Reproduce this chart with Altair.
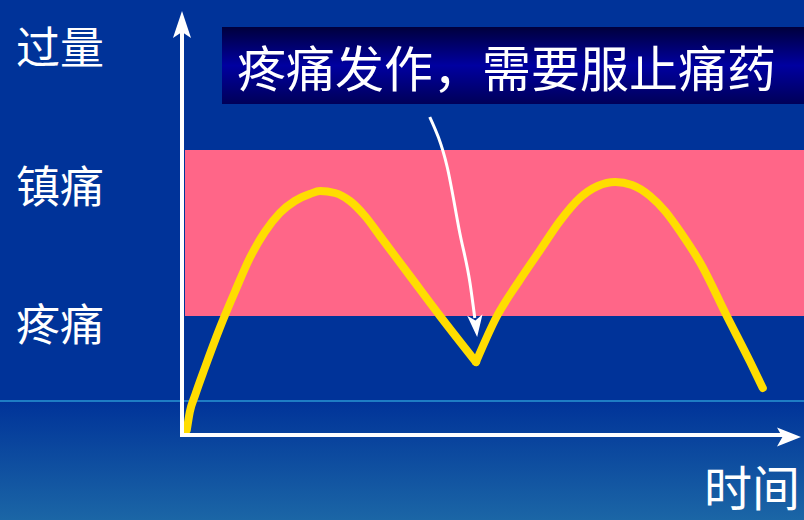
import altair as alt
import pandas as pd

# Time (arbitrary units) and drug concentration level
# Dose 1: from intake to the trough where pain returns
dose1_t = [0.03, 0.08, 0.17, 0.33, 0.58, 0.83, 1.08, 1.33, 1.58, 1.83, 2.08,
           2.25, 2.5, 2.75, 3.0, 3.25, 3.75, 4.25, 4.85]
dose1_level = [1.0, 5.5, 9.75, 16.5, 26.5, 35.5, 44.0, 50.5, 55.25, 58.25, 60.0,
               60.75, 60.25, 58.25, 54.5, 49.5, 39.5, 29.5, 18.0]
# Dose 2: from the trough onwards
dose2_t = [4.85, 5.2, 5.58, 5.92, 6.25, 6.58, 6.88, 7.17, 7.45, 7.75, 8.0,
           8.28, 8.58, 9.03, 9.42, 9.63]
dose2_level = [18.0, 29.5, 38.5, 46.0, 53.25, 59.0, 62.0, 63.0, 62.25, 59.5, 55.75,
               50.0, 43.0, 29.5, 18.0, 11.5]

# Therapeutic window: pain threshold and analgesic (overdose) threshold
PAIN_LEVEL = 29.5
OVERDOSE_LEVEL = 71.0
T_MAX = 10.32

# Annotation arrow pointing at the trough
arrow_t = [4.08, 4.37, 4.58, 4.75, 4.83]
arrow_level = [79.25, 66.75, 50.25, 37.75, 29.0]

level_labels = ["过量", "镇痛", "疼痛"]
title_text = "疼痛发作，需要服止痛药"
x_label = "时间"

W, H = 804, 520
xs = alt.Scale(domain=[-185 / 60, 619 / 60])
ys = alt.Scale(domain=[-21.5, 108.5])

curve_df = pd.concat([
    pd.DataFrame({"t": dose1_t, "level": dose1_level, "dose": 1}),
    pd.DataFrame({"t": dose2_t, "level": dose2_level, "dose": 2}),
])
arrow_df = pd.DataFrame({"t": arrow_t, "level": arrow_level})
band_df = pd.DataFrame({"t0": [0.0], "t1": [T_MAX], "lo": [PAIN_LEVEL], "hi": [OVERDOSE_LEVEL]})
one = pd.DataFrame({"a": [0]})

base_x = alt.X("t:Q", scale=xs, axis=None)
base_y = alt.Y("level:Q", scale=ys, axis=None)

bottom_grad = alt.Chart(one).mark_rect(
    fill=alt.Gradient(gradient="linear", x1=0, x2=0, y1=0, y2=1,
                      stops=[alt.GradientStop(color="#003399", offset=0),
                             alt.GradientStop(color="#1b66a6", offset=1)])
).encode(x=alt.value(0), x2=alt.value(W), y=alt.value(401), y2=alt.value(H))

hline = alt.Chart(one).mark_rule(color="#3cc8f0", strokeWidth=1).encode(
    x=alt.value(0), x2=alt.value(W), y=alt.value(401))

band = alt.Chart(band_df).mark_rect(color="#ff6688").encode(
    x=alt.X("t0:Q", scale=xs, axis=None), x2="t1:Q",
    y=alt.Y("lo:Q", scale=ys, axis=None), y2="hi:Q")

title_box = alt.Chart(one).mark_rect(
    fill=alt.Gradient(gradient="linear", x1=0, x2=0, y1=0, y2=1,
                      stops=[alt.GradientStop(color="#00003c", offset=0),
                             alt.GradientStop(color="#0000a0", offset=0.5),
                             alt.GradientStop(color="#000058", offset=1)])
).encode(x=alt.value(222), x2=alt.value(W), y=alt.value(27), y2=alt.value(104))

title = alt.Chart(one).mark_text(
    text=title_text, font="Noto Sans CJK SC", fontSize=49, color="white",
    align="left", baseline="middle"
).encode(x=alt.value(237), y=alt.value(72))

curve = alt.Chart(curve_df).mark_line(
    color="#ffdd00", strokeWidth=8, strokeJoin="round", strokeCap="round",
    interpolate="monotone"
).encode(x=base_x, y=base_y, detail="dose:N")

y_axis = alt.Chart(one).mark_rule(color="white", strokeWidth=4).encode(
    x=alt.value(182), y=alt.value(437), y2=alt.value(30))
x_axis = alt.Chart(one).mark_rule(color="white", strokeWidth=4).encode(
    x=alt.value(180), x2=alt.value(790), y=alt.value(435))

up_head = alt.Chart(one).mark_point(
    shape="M0,-1L0.67,1L0,0.55L-0.67,1Z", size=729, filled=True,
    color="white", opacity=1
).encode(x=alt.value(182), y=alt.value(24.5))
right_head = alt.Chart(one).mark_point(
    shape="M1,0L-1,0.8L-0.55,0L-1,-0.8Z", size=576, filled=True,
    color="white", opacity=1
).encode(x=alt.value(789), y=alt.value(437))

ann_line = alt.Chart(arrow_df).mark_line(
    color="white", strokeWidth=3, interpolate="monotone"
).encode(x=base_x, y=base_y)
ann_head = alt.Chart(one).mark_point(
    shape="M0,1L0.7,-1L0,-0.5L-0.7,-1Z", size=484, filled=True,
    color="white", opacity=1, angle=354
).encode(x=alt.value(476), y=alt.value(326))

labels_df = pd.DataFrame({"label": level_labels, "yy": [51, 190, 328]})
labels = alt.Chart(labels_df).mark_text(
    font="Noto Sans CJK SC", fontSize=44, color="white", align="center",
    baseline="middle"
).encode(x=alt.value(60), y=alt.Y("yy:Q", scale=None), text="label:N")

xlab = alt.Chart(one).mark_text(
    text=x_label, font="Noto Sans CJK SC", fontSize=48, color="white",
    align="center", baseline="middle"
).encode(x=alt.value(752), y=alt.value(492))

chart = alt.layer(
    bottom_grad, hline, band, title_box, title, curve, y_axis, x_axis,
    up_head, right_head, ann_line, ann_head, labels, xlab
).properties(
    width=W, height=H, padding=0, autosize="none", background="#003399"
).configure_view(stroke=None)

chart.save("out.html", embed_options={"renderer": "svg", "actions": False})
